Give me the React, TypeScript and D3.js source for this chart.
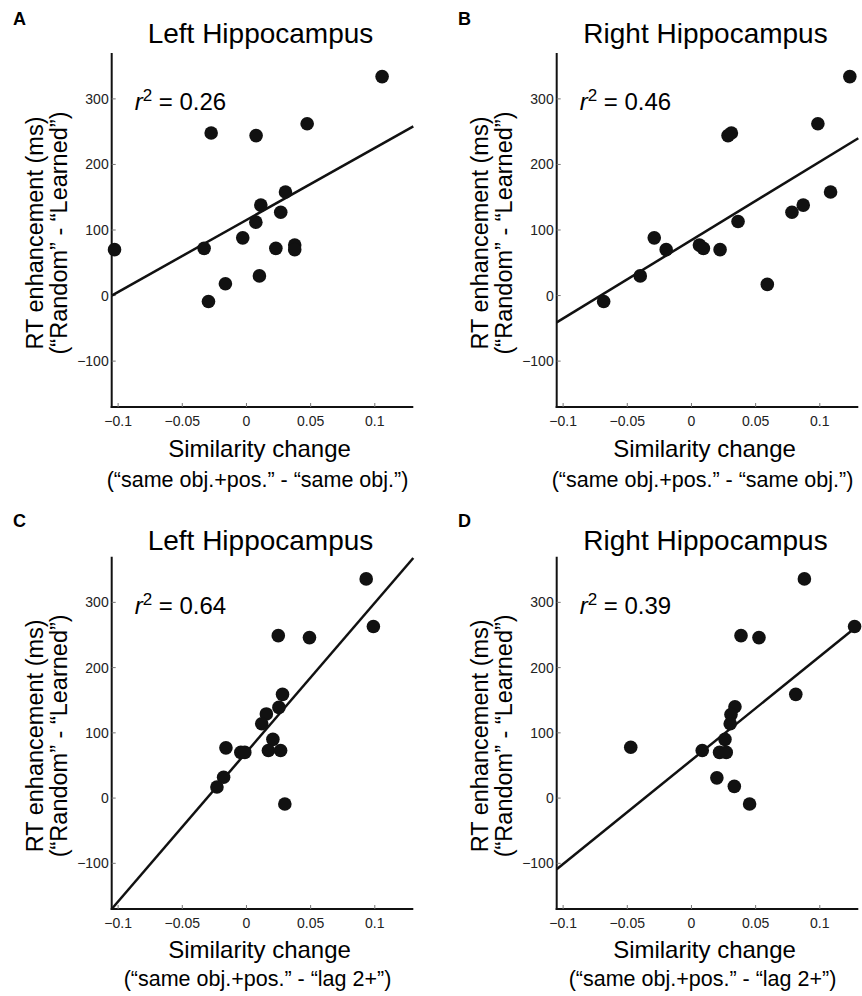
import React from "react";
import * as d3 from "d3";

// ---------- data ----------
const aX = [0.1057, 0.0473, -0.0275, 0.0075, 0.0304, 0.0112, 0.0267, 0.0073, -0.0029, -0.033, 0.0229, 0.0376, 0.0376, -0.1028, 0.0101, -0.0164, -0.0296];
const aY = [334, 262, 248, 244, 158, 138, 127, 112, 88, 72, 72, 77, 70, 70, 30, 18, -9];
const bX = [0.1234, 0.0985, 0.0285, 0.0311, 0.1084, 0.0871, 0.0783, 0.0363, -0.029, -0.0197, 0.0062, 0.0093, 0.0223, -0.0399, 0.0591, -0.0684];
const bY = [334, 262, 244, 248, 158, 138, 127, 113, 88, 70, 77, 72, 70, 30, 17, -9];
const cX = [0.0933, 0.0989, 0.0248, 0.0491, 0.0281, 0.0253, 0.0155, 0.0119, 0.0206, -0.016, -0.0044, -0.0013, 0.0171, 0.0266, -0.0178, -0.023, 0.0299];
const cY = [336, 263, 249, 246, 159, 139, 129, 114, 90, 77, 70, 70, 73, 73, 32, 17, -9];
const dX = [0.088, 0.1271, 0.0386, 0.0526, 0.0813, 0.0339, 0.0308, 0.0302, 0.0261, -0.0473, 0.0084, 0.0219, 0.0271, 0.0198, 0.0334, 0.0453];
const dY = [336, 263, 249, 246, 159, 140, 128, 114, 90, 78, 73, 70, 70, 31, 18, -9];

const fitX = [-0.105, 0.13];
const fitA = [0, 258];
const fitB = [-41, 240];
const fitC = [-170, 368];
const fitD = [-109, 265];

const panelLetters = ["A", "B", "C", "D"];
const titles = ["Left Hippocampus", "Right Hippocampus", "Left Hippocampus", "Right Hippocampus"];
const r2Values = ["0.26", "0.46", "0.64", "0.39"];
const xLabelLine2 = [
  "(\u201csame obj.+pos.\u201d - \u201csame obj.\u201d)",
  "(\u201csame obj.+pos.\u201d - \u201csame obj.\u201d)",
  "(\u201csame obj.+pos.\u201d - \u201clag 2+\u201d)",
  "(\u201csame obj.+pos.\u201d - \u201clag 2+\u201d)",
];
const xTicks = [-0.1, -0.05, 0, 0.05, 0.1];
const xTickLabels = ["\u22120.1", "\u22120.05", "0", "0.05", "0.1"];
const yTicks = [-100, 0, 100, 200, 300];
const yTickLabels = ["\u2212100", "0", "100", "200", "300"];
const xDomain = [-0.105, 0.13];
const yDomain = [-170, 370];

const FONT = "'Liberation Sans', Arial, Helvetica, sans-serif";

const rows = [
  { top: 53, bottom: 407, title: 43, letter: 25, xl1: 457, xl2: 487 },
  { top: 556.7, bottom: 909, title: 550, letter: 527, xl1: 958, xl2: 986 },
];
const cols = [{ left: 111.7, right: 413.3, off: 0 }, { left: 556.7, right: 858.3, off: 445 }];

const panelData = [
  { xs: aX, ys: aY, fit: fitA },
  { xs: bX, ys: bY, fit: fitB },
  { xs: cX, ys: cY, fit: fitC },
  { xs: dX, ys: dY, fit: fitD },
];

function Panel({ i }: { i: number }) {
  const row = rows[Math.floor(i / 2)];
  const col = cols[i % 2];
  const { xs, ys, fit } = panelData[i];
  const x = d3.scaleLinear().domain(xDomain).range([col.left, col.right]);
  const y = d3.scaleLinear().domain(yDomain).range([row.bottom, row.top]);
  const line = d3
    .line<[number, number]>()
    .x((d) => x(d[0]))
    .y((d) => y(d[1]));
  const fitPts: [number, number][] = fitX.map((v, k) => [v, fit[k]]);
  const cx = (col.left + col.right) / 2;
  const cy = (row.top + row.bottom) / 2 + 3;
  return (
    <g>
      <text x={col.off + 13} y={row.letter} fontSize={18} fontWeight="bold" fontFamily={FONT}>
        {panelLetters[i]}
      </text>
      <text x={cx - 2} y={row.title} fontSize={28} textAnchor="middle" fontFamily={FONT}>
        {titles[i]}
      </text>
      {/* axes */}
      <line x1={col.left} x2={col.left} y1={row.top} y2={row.bottom + 1} stroke="#111" strokeWidth={2} />
      <line x1={col.left - 1} x2={col.right} y1={row.bottom} y2={row.bottom} stroke="#111" strokeWidth={2} />
      {xTicks.map((t, k) => (
        <g key={"xt" + k}>
          <line x1={x(t)} x2={x(t)} y1={row.bottom} y2={row.bottom - 4} stroke="#777" strokeWidth={1} />
          <text x={x(t)} y={row.bottom + 19} fontSize={14} textAnchor="middle" fontFamily={FONT} fill="#222">
            {xTickLabels[k]}
          </text>
        </g>
      ))}
      {yTicks.map((t, k) => (
        <g key={"yt" + k}>
          <line x1={col.left} x2={col.left + 4} y1={y(t)} y2={y(t)} stroke="#777" strokeWidth={1} />
          <text x={col.left - 3} y={y(t)} dy="0.36em" fontSize={14} textAnchor="end" fontFamily={FONT} fill="#222">
            {yTickLabels[k]}
          </text>
        </g>
      ))}
      {/* axis labels */}
      <text transform={`translate(${col.off + 43},${cy}) rotate(-90)`} fontSize={23.5} textAnchor="middle" fontFamily={FONT}>
        RT enhancement (ms)
      </text>
      <text transform={`translate(${col.off + 67},${cy}) rotate(-90)`} fontSize={23.5} textAnchor="middle" fontFamily={FONT}>
        {"(\u201cRandom\u201d - \u201cLearned\u201d)"}
      </text>
      <text x={cx - 3} y={row.xl1} fontSize={24} textAnchor="middle" fontFamily={FONT}>
        Similarity change
      </text>
      <text x={cx - 5} y={row.xl2} fontSize={21.5} textAnchor="middle" fontFamily={FONT}>
        {xLabelLine2[i]}
      </text>
      {/* r^2 */}
      <text x={col.left + 23} y={row.top + 57} fontSize={24} fontFamily={FONT}>
        <tspan fontStyle="italic">r</tspan>
        <tspan fontSize={17} dy={-9}>2</tspan>
        <tspan dy={9}>{" = " + r2Values[i]}</tspan>
      </text>
      {/* fit line */}
      <path d={line(fitPts) || ""} fill="none" stroke="#111" strokeWidth={2.5} />
      {/* points */}
      {xs.map((v, k) => (
        <circle key={"p" + k} cx={x(v)} cy={y(ys[k])} r={6.8} fill="#111" />
      ))}
    </g>
  );
}

export default function App() {
  return (
    <svg
      width={862}
      height={996}
      style={{ position: "absolute", left: 0, top: 0, background: "#fff" }}
    >
      <rect width={862} height={996} fill="#fff" />
      {[0, 1, 2, 3].map((i) => (
        <Panel key={i} i={i} />
      ))}
    </svg>
  );
}
